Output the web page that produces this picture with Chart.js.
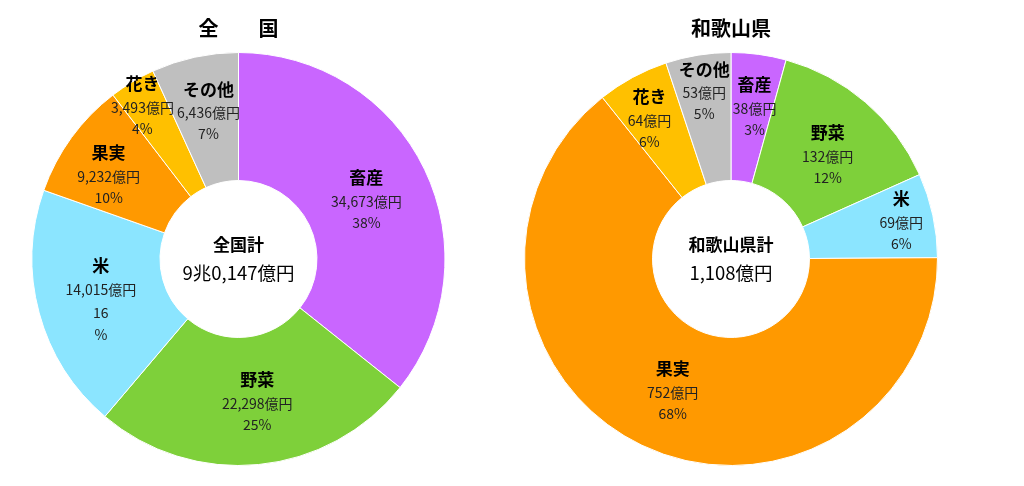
<!DOCTYPE html>
<html>
<head>
<meta charset="utf-8">
<script src="https://cdn.jsdelivr.net/npm/chart.js@4.4.0/dist/chart.umd.min.js"></script>
<style>
  html, body { margin: 0; padding: 0; background: #fff; }
  body { width: 1024px; height: 486px; position: relative; overflow: hidden; }
  canvas { position: absolute; top: 0; }
  #zenkokuChart { left: 0; }
  #wakayamaChart { left: 497px; }
</style>
</head>
<body>
<canvas id="zenkokuChart" width="468" height="486"></canvas>
<canvas id="wakayamaChart" width="460" height="486"></canvas>
<script>
// 品目別 農業産出額（億円） - label text values
var categories = ['畜産', '野菜', '米', '果実', '花き', 'その他'];
var zenkokuValues = [34673, 22298, 14015, 9232, 3493, 6436];
var wakayamaValues = [38, 132, 69, 752, 64, 53];
// slice sizes as drawn in the original (% of ring)
var zenkokuShares = [35.7, 25.5, 19.2, 9.2, 3.6, 6.8];
var wakayamaShares = [4.3, 14.0, 6.6, 64.4, 5.6, 5.1];
var sliceColors = ['#C966FF', '#7ED03A', '#8BE5FF', '#FF9900', '#FFC000', '#BFBFBF'];

var FONT = '"Noto Sans CJK JP", "Noto Sans", sans-serif';

function sum(arr) {
    return arr.reduce(function (a, b) { return a + b; }, 0);
}
function fmt(n) {
    return n.toLocaleString('en-US');
}
// 90147 -> 9兆0,147億円
function fmtOku(n) {
    var cho = Math.floor(n / 10000);
    var rest = String(n % 10000);
    if (cho === 0) return fmt(n) + '億円';
    while (rest.length < 4) rest = '0' + rest;
    return cho + '兆' + rest.charAt(0) + ',' + rest.slice(1) + '億円';
}

// label placement: angle nudge (deg) and distance from centre (px) per slice
var labelLayouts = {
    zenkokuChart: { nudge: [1.7, -1.8, 2.6, -3.5, -1.5, 0.6], radius: [140, 146, 141, 154, 179, 149], wrapPct: [false, false, true, false, false, false] },
    wakayamaChart: { nudge: [1.2, 2.6, 0.3, -2, -2, 0], radius: [152, 141, 174, 146, 161, 168], wrapPct: [false, false, false, false, false, false] }
};

var sliceLabels = {
    id: 'sliceLabels',
    afterDatasetsDraw: function (chart, args, opts) {
        var ctx = chart.ctx;
        var meta = chart.getDatasetMeta(0);
        var values = opts.values;
        var total = sum(values);
        var lay = labelLayouts[chart.canvas.id];
        ctx.save();
        ctx.textAlign = 'center';
        ctx.textBaseline = 'middle';
        meta.data.forEach(function (arc, i) {
            var p = arc.getProps(['x', 'y', 'startAngle', 'endAngle'], true);
            var a = (p.startAngle + p.endAngle) / 2 + lay.nudge[i] * Math.PI / 180;
            var x = p.x + Math.cos(a) * lay.radius[i];
            var y = p.y + Math.sin(a) * lay.radius[i];
            var pct = Math.round(values[i] / total * 100);
            ctx.fillStyle = '#000';
            ctx.font = 'bold 17px ' + FONT;
            ctx.fillText(chart.data.labels[i], x, y - 24);
            ctx.fillStyle = '#222';
            ctx.font = '14px ' + FONT;
            ctx.fillText(fmt(values[i]) + '億円', x, y);
            if (lay.wrapPct[i]) {
                ctx.fillText(String(pct), x, y + 23);
                ctx.fillText('%', x, y + 45);
            } else {
                ctx.fillText(pct + '%', x, y + 21);
            }
        });
        // centre total
        var c = meta.data[0].getProps(['x', 'y'], true);
        ctx.fillStyle = '#000';
        ctx.font = 'bold 17px ' + FONT;
        ctx.fillText(opts.centerTitle, c.x, c.y - 14);
        ctx.font = '18.5px ' + FONT;
        ctx.fillText(fmtOku(total), c.x, c.y + 14);
        ctx.restore();
    }
};

function makeDoughnut(id, title, centerTitle, shares, values, padLeft) {
    return new Chart(document.getElementById(id), {
        type: 'doughnut',
        data: {
            labels: categories,
            datasets: [{
                data: shares,
                backgroundColor: sliceColors,
                borderColor: '#ffffff',
                borderWidth: 1,
                hoverOffset: 0
            }]
        },
        options: {
            responsive: false,
            animation: false,
            cutout: '38%',
            layout: { padding: { left: padLeft, right: 0, top: 0, bottom: 20 } },
            plugins: {
                legend: { display: false },
                tooltip: { enabled: false },
                title: {
                    display: true,
                    text: title,
                    color: '#000',
                    font: { family: FONT, size: 20, weight: 'bold', lineHeight: 1.2 },
                    padding: { top: 16, bottom: 12 }
                },
                sliceLabels: { centerTitle: centerTitle, values: values }
            }
        },
        plugins: [sliceLabels]
    });
}

var zenkokuChart = makeDoughnut('zenkokuChart', '全　　国', '全国計', zenkokuShares, zenkokuValues, 9);
var wakayamaChart = makeDoughnut('wakayamaChart', '和歌山県', '和歌山県計', wakayamaShares, wakayamaValues, 8);
</script>
</body>
</html>
